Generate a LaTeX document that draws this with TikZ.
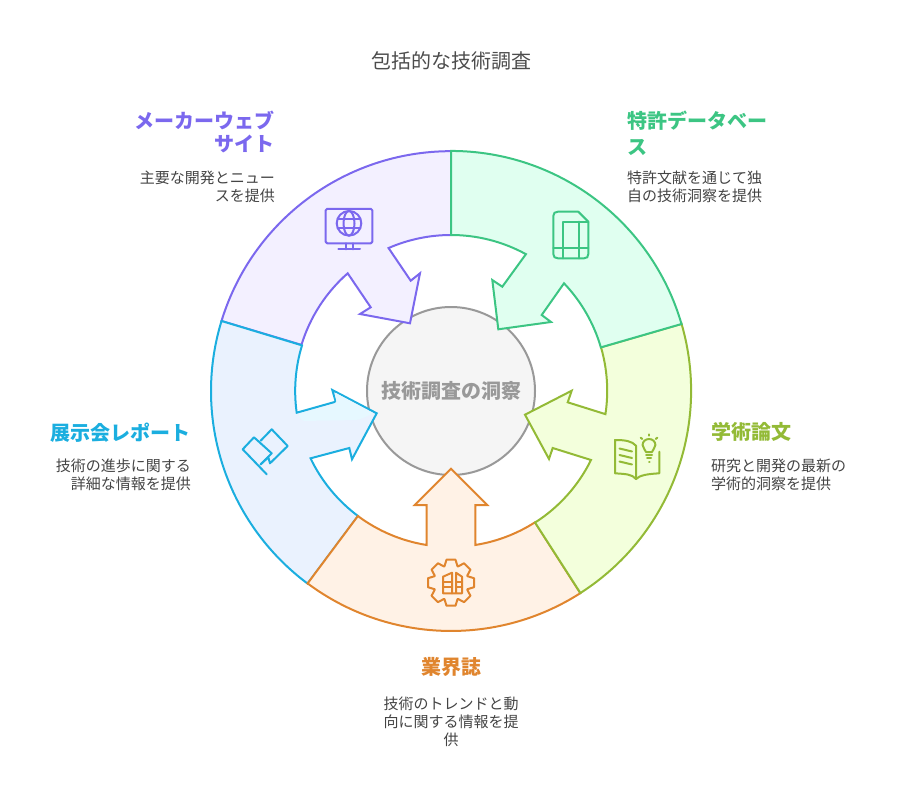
\documentclass[tikz,border=0pt]{standalone}
\usepackage{fontspec}
\setmainfont{Noto Sans CJK JP}
\definecolor{purplecol}{HTML}{7B68EE}
\definecolor{purplefill}{HTML}{F3F0FF}
\definecolor{greencol}{HTML}{3CC583}
\definecolor{greenfill}{HTML}{E0FFF0}
\definecolor{limecol}{HTML}{93BA36}
\definecolor{limefill}{HTML}{F3FFDC}
\definecolor{orangecol}{HTML}{E0852E}
\definecolor{orangefill}{HTML}{FFF2E6}
\definecolor{bluecol}{HTML}{1BAEDF}
\definecolor{bluefill}{HTML}{EAF2FE}
\definecolor{bluelight}{HTML}{E6F8FF}
\definecolor{bodycol}{HTML}{444444}
\tikzset{
  sector/.style={line width=2bp,line join=miter},
  icon/.style={line width=2bp,line join=round,line cap=round},
  headtext/.style={inner sep=0pt,font=\fontsize{20bp}{26bp}\selectfont\bfseries},
  bodytext/.style={inner sep=0pt,text=bodycol,font=\fontsize{15bp}{18bp}\selectfont},
}
\begin{document}
\begin{tikzpicture}[x=1bp,y=-1bp]
  \useasboundingbox (0,0) rectangle (902,800);
  % Node: core
  \node (core) at (451,391) [circle,minimum size=168bp,inner sep=0pt,line width=2bp,draw=black!40,fill=black!4] {};
  % Sector: purple
  \draw [sector,draw=purplecol,fill=purplefill] (451,235) arc[start angle=90,end angle=113.6,radius=156bp]
    -- (410.7,280.7) -- (420,273.3) -- (410,323.3) -- (360,314) -- (370.7,307.3) -- (347.7,273.3)
    arc[start angle=131.3,end angle=163,radius=156bp] -- (221.5,321)
    arc[start angle=163,end angle=90,radius=240bp] -- cycle;
  % Sector: blue
  \draw [sector,draw=bluecol,fill=bluefill] (358,516) arc[start angle=233.3,end angle=205.6,radius=156bp]
    -- (349.3,448) -- (352,459.3) -- (376.7,413.3) -- (332.3,390) -- (335.7,401.7) -- (296.7,412.7)
    arc[start angle=188,end angle=163,radius=156bp] -- (221.5,321)
    arc[start angle=163,end angle=233.3,radius=240bp] -- cycle;
  \fill [bluelight,rounded corners=2bp] (298,414) -- (336.8,403) -- (334.4,392.2) -- (374,413.5) -- (358,420) -- (302,421) -- cycle;
  % Sector: orange
  \draw [sector,draw=orangecol,fill=orangefill] (535,522.3) arc[start angle=-57.4,end angle=-81,radius=156bp]
    -- (475.3,505) -- (487.3,505) -- (451,468.7) -- (414.7,505) -- (426.7,505) -- (426.7,545)
    arc[start angle=261,end angle=233.3,radius=156bp] -- (307.6,583.4)
    arc[start angle=233.3,end angle=302.6,radius=240bp] -- cycle;
  % Sector: lime
  \draw [sector,draw=limecol,fill=limefill] (601,347.3) arc[start angle=16.2,end angle=-8.6,radius=156bp]
    -- (567.7,402.3) -- (571.7,390.7) -- (525,414.7) -- (549,459) -- (552.7,448) -- (591,460)
    arc[start angle=-26.2,end angle=-57.4,radius=156bp] -- (580.4,593)
    arc[start angle=-57.4,end angle=16.2,radius=240bp] -- cycle;
  % Sector: green
  \draw [sector,draw=greencol,fill=greenfill] (451,235) arc[start angle=90,end angle=61.3,radius=156bp]
    -- (502.3,286.7) -- (492.3,280) -- (498.3,329.3) -- (551,322) -- (541.7,315) -- (564,283.3)
    arc[start angle=43.6,end angle=16.2,radius=156bp] -- (681.5,324)
    arc[start angle=16.2,end angle=90,radius=240bp] -- cycle;
  % Node: corelabel
  \node (corelabel) at (451,391) [inner sep=0pt,text=black!40,font=\fontsize{20bp}{24bp}\selectfont\bfseries] {技術調査の洞察};
  % Node: title
  \node (title) at (451,61) [inner sep=0pt,text=black!70,font=\fontsize{20bp}{24bp}\selectfont] {包括的な技術調査};
  % Node: maker
  \node (makerhead) at (275,132) [headtext,anchor=east,align=right,text=purplecol] {メーカーウェブ\\[-3bp]サイト};
  \node (makerbody) at (275,187) [bodytext,anchor=east,align=right] {主要な開発とニュー\\スを提供};
  % Node: patent
  \node (patenthead) at (627,133) [headtext,anchor=west,align=left,text=greencol] {特許データベー\\ス};
  \node (patentbody) at (627,187) [bodytext,anchor=west,align=left] {特許文献を通じて独\\自の技術洞察を提供};
  % Node: thesis
  \node (thesishead) at (711,432) [headtext,anchor=west,text=limecol] {学術論文};
  \node (thesisbody) at (711,475) [bodytext,anchor=west,align=left] {研究と開発の最新の\\学術的洞察を提供};
  % Node: trade
  \node (tradehead) at (451,667) [headtext,text=orangecol] {業界誌};
  \node (tradebody) at (451,722) [bodytext,align=center] {技術のトレンドと動\\向に関する情報を提\\供};
  % Node: expo
  \node (expohead) at (191,433) [headtext,anchor=east,text=bluecol] {展示会レポート};
  \node (expobody) at (191,475) [bodytext,anchor=east,align=right] {技術の進歩に関する\\詳細な情報を提供};
  % Icon: monitor
\begin{scope}[icon,draw=purplecol]
  \draw [rounded corners=1.5bp] (325.7,208.8) rectangle (372.3,243.3);
  \draw (349,223.3) circle (12.3bp);
  \draw (349,223.3) ellipse (5.5bp and 12.3bp);
  \draw (337.6,218.5) -- (360.4,218.5);
  \draw (337.6,228.1) -- (360.4,228.1);
  \draw (346,243.3) -- (346,249.3);
  \draw (352.5,243.3) -- (352.5,249.3);
  \draw (338.3,249.3) -- (360,249.3);
\end{scope}
  % Icon: document
\begin{scope}[icon,draw=greencol]
  \draw (558,211.7) -- (578.3,211.7) -- (588.3,221.7) -- (588.3,254) .. controls (588.3,257) and (587,258.3) .. (584,258.3)
    -- (558,258.3) .. controls (555,258.3) and (553.3,257) .. (553.3,254) -- (553.3,216) .. controls (553.3,213) and (555,211.7) .. (558,211.7);
  \draw (562.7,258.3) -- (562.7,221.7) -- (588.3,221.7);
  \draw (579,221.7) -- (579,258.3);
  \draw (553.3,247.7) -- (588.3,247.7);
\end{scope}
  % Icon: book
\begin{scope}[icon,draw=limecol]
  \draw (636,479) .. controls (632,474) and (625,474) .. (615,473.3) -- (615,440) .. controls (625,440) and (632,441) .. (636,445.7) -- (636,479);
  \draw (636,479) .. controls (640,475) and (648,474) .. (659.3,473.3) -- (659.3,451.7);
  \draw (619.5,448.5) -- (632,451.5);
  \draw (619.5,455) -- (632,458);
  \draw (619.5,461.5) -- (632,464.5);
  \draw (646,452) .. controls (645.5,449) and (642.6,448.5) .. (642.6,445) .. controls (642.6,441.5) and (645.5,439) .. (649,439) .. controls (652.5,439) and (655.4,441.5) .. (655.4,445) .. controls (655.4,448.5) and (652.5,449) .. (652,452) -- cycle;
  \draw (646,455) -- (652,455);
  \draw (647,458.3) -- (651,458.3);
  \draw (649,461.7) -- (649.5,461.7);
  \draw (649,434.3) -- (649,435.7);
  \draw (640.7,437.7) -- (642.3,439);
  \draw (657.3,437.7) -- (655.7,439);
\end{scope}
  % Icon: gear
\begin{scope}[icon,draw=orangecol,shift={(451,582.7)}]
  \draw (16.5,-6.5) -- (23,-4.5) -- (23,4.5) -- (16.5,6.5) -- (16.26,7.07) -- (19.45,13.08) -- (13.08,19.45) -- (7.07,16.26)
    -- (6.5,16.5) -- (4.5,23) -- (-4.5,23) -- (-6.5,16.5) -- (-7.07,16.26) -- (-13.08,19.45) -- (-19.45,13.08) -- (-16.26,7.07)
    -- (-16.5,6.5) -- (-23,4.5) -- (-23,-4.5) -- (-16.5,-6.5) -- (-16.26,-7.07) -- (-19.45,-13.08) -- (-13.08,-19.45) -- (-7.07,-16.26)
    -- (-6.5,-16.5) -- (-4.5,-23) -- (4.5,-23) -- (6.5,-16.5) -- (7.07,-16.26) -- (13.08,-19.45) -- (19.45,-13.08) -- (16.26,-7.07) -- cycle;
  \draw (-8,-6) -- (1,-10) -- (1,10.6) -- (-8,10.6) -- cycle;
  \draw (1,10.6) -- (11,10.6) -- (11,-6) -- (5,-10) -- (5,10.6);
  \draw (-8,-0.5) -- (1,-0.5);
  \draw (-8,4) -- (1,4);
  \draw (5,-0.5) -- (11,-0.5);
  \draw (5,4) -- (11,4);
\end{scope}
  % Icon: flag
\begin{scope}[icon,draw=bluecol]
  \draw (266.7,474.3) -- (242.7,449.3) -- (254,437.3) -- (271.7,453.3) -- (260.7,464.3);
  \draw (260.7,440.7) -- (271.7,429.3) -- (287.7,446) -- (270,463.3) -- (268.3,457.3) -- (260.7,464.3);
\end{scope}
%
\end{tikzpicture}
\end{document}
